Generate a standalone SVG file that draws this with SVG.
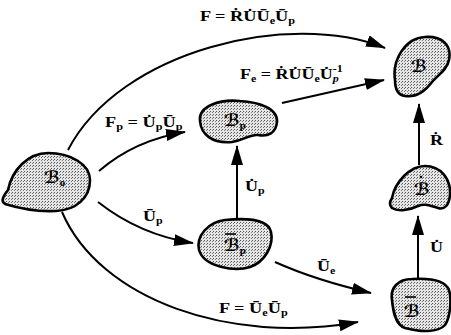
<svg xmlns="http://www.w3.org/2000/svg" width="451" height="335" viewBox="0 0 451 335">
<style>
.blob{fill:url(#stip);stroke:#000;stroke-width:2.6;stroke-linejoin:round}
.conn path{fill:none;stroke:#000;stroke-width:2;marker-end:url(#ah)}
.m{font-family:"Liberation Serif","DejaVu Serif",serif;font-weight:bold;font-size:15px;fill:#000}
.s{font-size:10px}
.b{font-family:"DejaVu Serif","DejaVu Sans",serif;font-weight:bold;font-size:17px;fill:#000}
.bs{font-family:"Liberation Serif",serif;font-weight:bold;font-size:11px}
.mk{stroke:#000;stroke-width:1.6}
</style>
<defs>
<pattern id="stip" width="3" height="3" patternUnits="userSpaceOnUse">
<rect width="3" height="3" fill="#e6e6e6"/>
<rect x="0" y="0" width="1" height="1" fill="#555"/>
<rect x="2" y="1" width="1" height="1" fill="#777"/>
</pattern>
<marker id="ah" viewBox="0 0 20 12" markerWidth="20" markerHeight="12" refX="19" refY="6" orient="auto" markerUnits="userSpaceOnUse">
<path d="M0,0 L20,6 L0,12 z" fill="#000"/>
</marker>
</defs>

<g id="connectors" class="conn">
<path id="c-F-top" d="M68 150 C120 50 290 10 385 48"/>
<path id="c-Fp" d="M99 171 Q135 140 185 132"/>
<path id="c-Fe" d="M282 103 Q330 92 384 80"/>
<path id="c-Up" d="M98 202 Q140 235 193 243"/>
<path id="c-Ue" d="M275 262 Q315 280 371 293"/>
<path id="c-F-bot" d="M62 212 C100 300 230 345 358 322"/>
<path id="c-Updot" d="M237 218 L237 146"/>
<path id="c-Rdot" d="M419 165 L419 104"/>
<path id="c-Udot" d="M418 278 L418 216"/>
</g>

<g id="labels">
<text class="m" transform="translate(200,21) scale(1.22,1)">F = ṘU̇Ū<tspan class="s" dy="3">e</tspan><tspan dy="-3">Ū</tspan><tspan class="s" dy="3">p</tspan></text>
<text class="m" transform="translate(240,79) scale(1.2,1)">F<tspan class="s" dy="3">e</tspan><tspan dy="-3"> = ṘU̇Ū</tspan><tspan class="s" dy="3">e</tspan><tspan dy="-3">U̇</tspan><tspan class="s" dy="3" font-style="italic">p</tspan><tspan class="s" dx="-5" dy="-10">-1</tspan></text>
<text class="m" transform="translate(105,127) scale(1.22,1)">F<tspan class="s" dy="3">p</tspan><tspan dy="-3"> = U̇</tspan><tspan class="s" dy="3">p</tspan><tspan dy="-3">Ū</tspan><tspan class="s" dy="3">p</tspan></text>
<text class="m" transform="translate(143,221) scale(1.2,1)">Ū<tspan class="s" dy="3">p</tspan></text>
<text class="m" transform="translate(245,191) scale(1.2,1)">U̇<tspan class="s" dy="3">p</tspan></text>
<text class="m" transform="translate(317,271) scale(1.2,1)">Ū<tspan class="s" dy="3">e</tspan></text>
<text class="m" transform="translate(219,313) scale(1.22,1)">F = Ū<tspan class="s" dy="3">e</tspan><tspan dy="-3">Ū</tspan><tspan class="s" dy="3">p</tspan></text>
<text class="m" transform="translate(430,145) scale(1.2,1)">Ṙ</text>
<text class="m" transform="translate(430,252) scale(1.2,1)">U̇</text>
</g>

<g id="B0">
<path class="blob" d="M8 190 C12 170 28 153 48 153 C70 153 90 164 90 180 C90 198 76 210 56 211 C36 212 18 208 5 204 C0 201 4 195 8 190 Z"/>
<text class="b" x="44" y="183">ℬ<tspan class="bs" dy="3">o</tspan></text>
</g>

<g id="Bp">
<path class="blob" d="M200 121 C198 106 220 99 240 101 C258 102 278 108 277 122 C276 133 268 137 258 135 C250 134 245 140 232 142 C212 144 201 134 200 121 Z"/>
<text class="b" x="224" y="126">ℬ<tspan class="bs" dy="3">p</tspan></text>
</g>

<g id="Bp-bar">
<path class="blob" d="M199 250 C196 236 208 222 225 220 C245 218 268 218 271 232 C274 245 265 262 250 267 C235 272 204 267 199 250 Z"/>
<line class="mk" x1="225" y1="234" x2="236" y2="234"/>
<text class="b" x="224" y="251">ℬ<tspan class="bs" dy="3">p</tspan></text>
</g>

<g id="B">
<path class="blob" d="M395 80 C392 60 405 38 425 37 C442 36 452 45 449 60 C447 70 438 75 432 82 C426 90 418 98 405 96 C397 95 395 88 395 80 Z"/>
<text class="b" x="411" y="72">ℬ</text>
</g>

<g id="B-hat">
<path class="blob" d="M392 198 C395 182 410 166 425 166 C440 166 451 178 450 195 C449 205 445 210 438 208 C430 206 425 203 418 206 C410 210 398 212 392 208 C389 205 390 201 392 198 Z"/>
<circle cx="421" cy="177" r="1.3" fill="#000"/>
<text class="b" x="414" y="195">ℬ</text>
</g>

<g id="B-bar">
<path class="blob" d="M392 300 C390 288 398 279 412 279 C428 278 445 280 449 290 C452 300 450 318 445 325 C438 333 420 332 405 328 C395 325 393 310 392 300 Z"/>
<line class="mk" x1="405" y1="297" x2="416" y2="297"/>
<text class="b" x="404" y="317">ℬ</text>
</g>
</svg>
